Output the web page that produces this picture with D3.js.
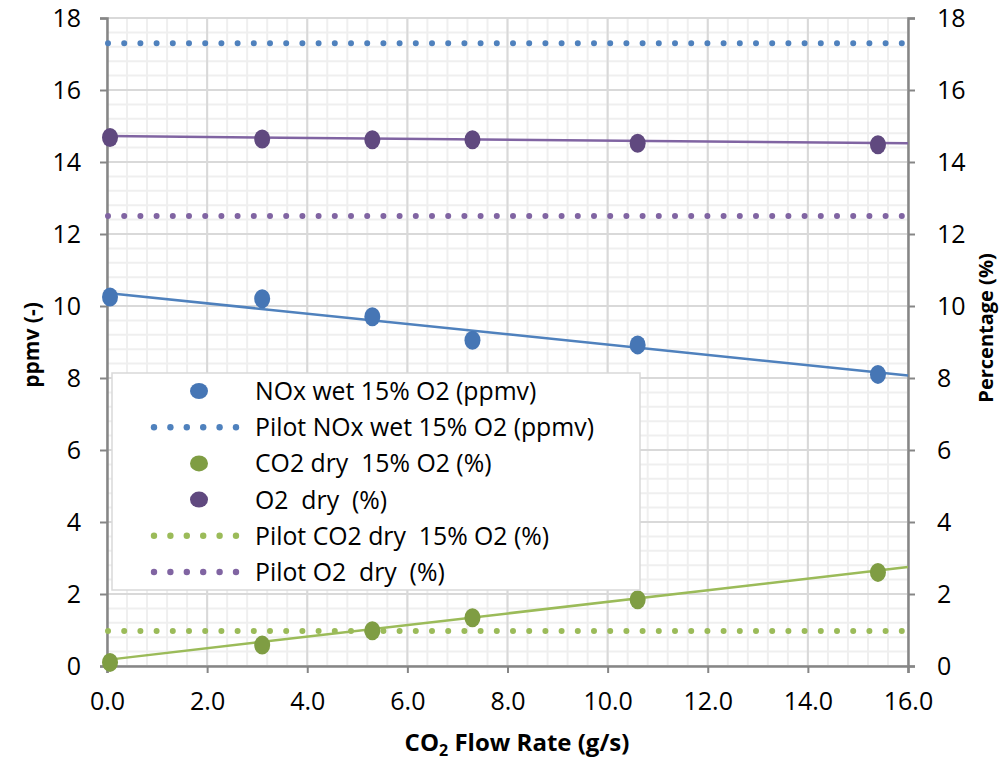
<!DOCTYPE html>
<html><head><meta charset="utf-8">
<script src="https://cdn.jsdelivr.net/npm/d3@7"></script>
<style>body{margin:0;background:#fff;} svg{display:block;font-family:"Open Sans",sans-serif;} text{white-space:pre;}</style>
</head><body>
<svg id="c" width="999" height="760"></svg>
<script>
const flowRate = [0.06, 3.1, 5.3, 7.3, 10.6, 15.4];
const noxWet = [10.25, 10.2, 9.7, 9.05, 8.92, 8.1];
const co2Dry = [0.1, 0.58, 0.98, 1.34, 1.84, 2.6];
const o2Dry = [14.68, 14.64, 14.62, 14.62, 14.52, 14.48];
const pilotX = [0, 16];
const pilotNOx = [17.3, 17.3];
const pilotCO2 = [0.97, 0.97];
const pilotO2 = [12.5, 12.5];
const trendX = [0, 16];
const noxTrend = [10.36, 8.07];
const co2Trend = [0.17, 2.75];
const o2Trend = [14.72, 14.52];
const xTicks = [0,2,4,6,8,10,12,14,16];
const yTicks = [0,2,4,6,8,10,12,14,16,18];
const legendLabels = ["NOx wet 15% O2 (ppmv)","Pilot NOx wet 15% O2 (ppmv)","CO2 dry  15% O2 (%)","O2  dry  (%)","Pilot CO2 dry  15% O2 (%)","Pilot O2  dry  (%)"];

const svg = d3.select("#c");
const L=107, R=908, T=18, B=666;
const x = d3.scaleLinear().domain([0,16]).range([L,R]);
const yL = d3.scaleLinear().domain([0,18]).range([B,T]);
const yR = d3.scaleLinear().domain([0,18]).range([B,T]);

const blue="#4f81bd", green="#9bbb59", purple="#8064a2";
const blueM="#4676b5", greenM="#7f9d43", purpleM="#60497f";
const FONT = "'Open Sans', sans-serif";

// grid
const g = svg.append("g");
const minorX = d3.range(0,16.001,0.4), minorY = d3.range(0,18.001,0.4);
g.selectAll(".mx").data(minorX).join("line").attr("x1",d=>x(d)).attr("x2",d=>x(d)).attr("y1",T).attr("y2",B).attr("stroke","#efefef").attr("stroke-width",2);
g.selectAll(".my").data(minorY).join("line").attr("y1",d=>yL(d)).attr("y2",d=>yL(d)).attr("x1",L).attr("x2",R).attr("stroke","#efefef").attr("stroke-width",2);
g.selectAll(".Mx").data(xTicks).join("line").attr("x1",d=>x(d)).attr("x2",d=>x(d)).attr("y1",T).attr("y2",B).attr("stroke","#d9d9d9").attr("stroke-width",2);
g.selectAll(".My").data(yTicks).join("line").attr("y1",d=>yL(d)).attr("y2",d=>yL(d)).attr("x1",L).attr("x2",R).attr("stroke","#d9d9d9").attr("stroke-width",2);

// axes
const axisColor="#868686";
const ax = svg.append("g").attr("transform",`translate(0,${B})`).call(d3.axisBottom(x).tickValues(xTicks).tickFormat(d3.format(".1f")).tickSize(7).tickPadding(19));
const ayl = svg.append("g").attr("transform",`translate(${L},0)`).call(d3.axisLeft(yL).tickValues(yTicks).tickSize(7).tickPadding(19));
const ayr = svg.append("g").attr("transform",`translate(${R},0)`).call(d3.axisRight(yR).tickValues(yTicks).tickSize(7).tickPadding(22));
[ax,ayl,ayr].forEach(a=>{
  a.select(".domain").attr("stroke",axisColor).attr("stroke-width",2.5);
  a.selectAll(".tick line").attr("stroke",axisColor).attr("stroke-width",2);
  a.selectAll("text").attr("font-size",25).attr("fill","#000").attr("font-family",FONT);
});

// pilot dotted lines
function dotted(ys, color, scale){
  svg.append("path").attr("d", d3.line().x((d,i)=>x(pilotX[i])).y(d=>scale(d))(ys))
    .attr("fill","none").attr("stroke",color).attr("stroke-width",6).attr("stroke-linecap","round").attr("stroke-dasharray","0 16.2")
    .attr("transform","translate(1,0)");
}
dotted(pilotNOx, blue, yL);
dotted(pilotO2, purple, yR);
dotted(pilotCO2, green, yR);

// trend lines
function trend(ys, color, scale){
  svg.append("path").attr("d", d3.line().x((d,i)=>x(trendX[i])).y(d=>scale(d))(ys))
    .attr("fill","none").attr("stroke",color).attr("stroke-width",2.5);
}
trend(noxTrend, blue, yL);
trend(o2Trend, purple, yR);
trend(co2Trend, green, yR);

// markers
function markers(ys, color, scale){
  svg.append("g").selectAll("ellipse").data(ys).join("ellipse")
    .attr("cx",(d,i)=>x(flowRate[i])).attr("cy",d=>scale(d)).attr("rx",8).attr("ry",9.5).attr("fill",color);
}
markers(noxWet, blueM, yL);
markers(o2Dry, purpleM, yR);
markers(co2Dry, greenM, yR);

// legend
const lg = svg.append("g");
lg.append("rect").attr("x",112).attr("y",373).attr("width",528).attr("height",217).attr("fill","#fff").attr("stroke","#d9d9d9").attr("stroke-width",1.5);
const rowY = d3.range(6).map(i=>391+i*36.2);
const legendKinds = [["m",blueM],["d",blue],["m",greenM],["m",purpleM],["d",green],["d",purple]];
legendKinds.forEach(([k,c],i)=>{
  if(k==="m"){
    lg.append("ellipse").attr("cx",199).attr("cy",rowY[i]).attr("rx",9).attr("ry",8).attr("fill",c);
  } else {
    lg.selectAll(null).data(d3.range(6)).join("circle").attr("cx",j=>154+j*16.4).attr("cy",rowY[i]).attr("r",3.2).attr("fill",c);
  }
  lg.append("text").attr("x",255).attr("y",rowY[i]+9).attr("font-size",24.8).attr("font-family",FONT).text(legendLabels[i]);
});

// axis titles
const xt = svg.append("text").attr("x",517).attr("y",751).attr("text-anchor","middle").attr("font-size",24).attr("font-weight","bold").attr("font-family",FONT);
xt.append("tspan").text("CO");
xt.append("tspan").attr("font-size",16).attr("dy",5).text("2");
xt.append("tspan").attr("dy",-5).text(" Flow Rate (g/s)");
svg.append("text").attr("transform","translate(39,345) rotate(-90)").attr("text-anchor","middle").attr("font-size",21).attr("font-weight","bold").attr("font-family",FONT).text("ppmv (-)");
svg.append("text").attr("transform","translate(993,328) rotate(-90)").attr("text-anchor","middle").attr("font-size",20).attr("font-weight","bold").attr("font-family",FONT).text("Percentage (%)");
</script>
</body></html>
